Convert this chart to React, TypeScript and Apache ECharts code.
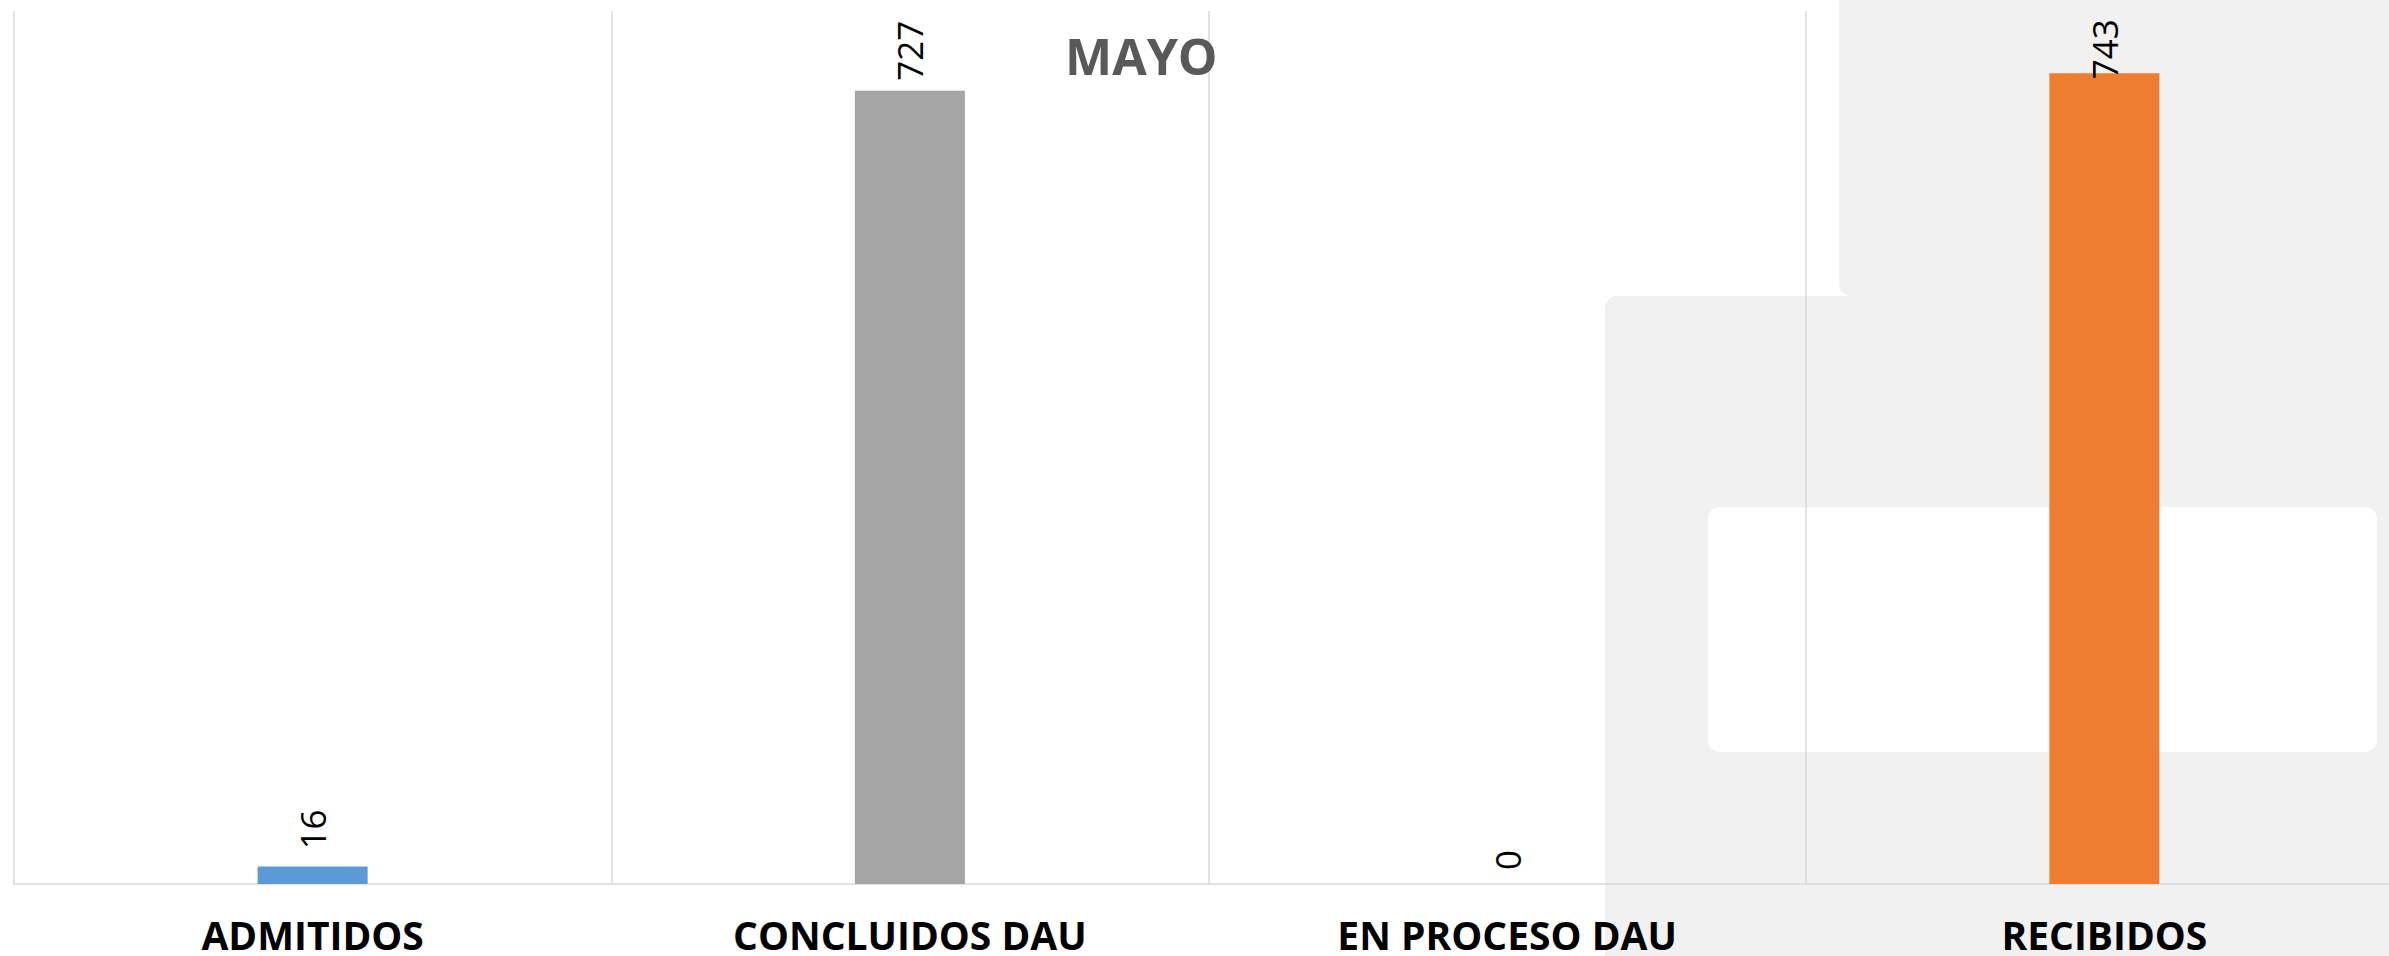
import React, { useEffect, useRef } from "react";
import * as echarts from "echarts";

const categories = ["ADMITIDOS", "CONCLUIDOS DAU", "EN PROCESO DAU", "RECIBIDOS"];
const values = [16, 727, 0, 743];
const barColors = ["#5B9BD5", "#A5A5A5", "#FFC000", "#ED7D31"];
const labelDistances = [17, 10, 14, -6];
const chartTitle = "MAYO";
const yMin = 0;
const yMax = 800;

export default function App() {
  const ref = useRef<HTMLDivElement>(null);

  useEffect(() => {
    if (!ref.current) return;
    const chart = echarts.init(ref.current, null, { renderer: "svg" });
    const gray = "#f0f1f0";
    chart.setOption({
      animation: false,
      backgroundColor: "#ffffff",
      title: {
        text: chartTitle,
        left: 1065,
        top: 31,
        padding: 0,
        textStyle: {
          fontFamily: "Open Sans",
          fontWeight: "bold",
          fontSize: 50,
          color: "#595959",
        },
      },
      graphic: [
        {
          type: "rect",
          z: -10,
          silent: true,
          shape: { x: 1839, y: -20, width: 600, height: 316, r: [0, 0, 0, 12] },
          style: { fill: gray },
        },
        {
          type: "rect",
          z: -10,
          silent: true,
          shape: { x: 1605, y: 296, width: 820, height: 680, r: [12, 0, 0, 12] },
          style: { fill: gray },
        },
        {
          type: "rect",
          z: -9,
          silent: true,
          shape: { x: 1708, y: 507, width: 669, height: 245, r: 12 },
          style: { fill: "#ffffff" },
        },
      ],
      grid: {
        left: 14,
        top: 11,
        width: 2389,
        height: 873,
        containLabel: false,
        outerBoundsMode: "none",
      },
      xAxis: {
        type: "category",
        data: categories,
        boundaryGap: true,
        axisLine: { show: true, lineStyle: { color: "#d9d9d9", width: 1.5 } },
        axisTick: { show: false },
        splitLine: { show: true, lineStyle: { color: "#d9d9d9", width: 1.5 } },
        axisLabel: {
          margin: 31,
          fontFamily: "Open Sans",
          fontWeight: "bold",
          fontSize: 39,
          color: "#000000",
          interval: 0,
        },
      },
      yAxis: {
        type: "value",
        min: yMin,
        max: yMax,
        show: false,
        splitLine: { show: false },
      },
      series: [
        {
          type: "bar",
          barWidth: 110,
          data: values.map((v, i) => ({
            value: v,
            itemStyle: { color: barColors[i] },
            label: { distance: labelDistances[i] },
          })),
          label: {
            show: true,
            position: "top",
            rotate: 90,
            align: "left",
            verticalAlign: "middle",
            fontFamily: "Open Sans",
            fontSize: 35,
            color: "#000000",
          },
        },
      ],
    });
    return () => chart.dispose();
  }, []);

  return (
    <div
      ref={ref}
      style={{ position: "fixed", left: 0, top: 0, width: 2389, height: 956 }}
    />
  );
}
